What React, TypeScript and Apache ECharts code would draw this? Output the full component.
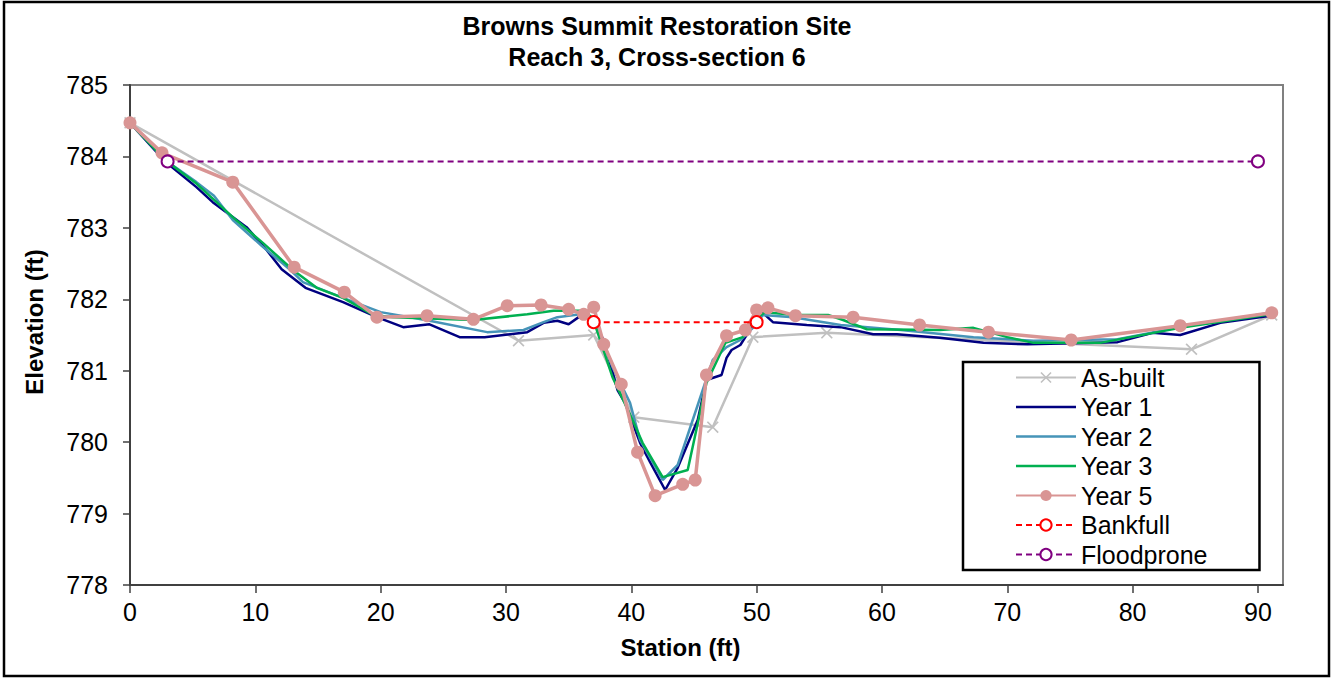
import React, { useEffect, useRef } from "react";
import * as echarts from "echarts";

const FONT = 'Arial, "Liberation Sans", sans-serif';

const asBuiltX = [0, 31.0, 37.0, 40.2, 46.5, 49.7, 55.6, 84.7, 91.1];
const asBuiltY = [784.47, 781.42, 781.5, 780.35, 780.21, 781.47, 781.53, 781.3, 781.78];

const year1X = [0, 2.8, 5.3, 6.6, 9.3, 10.9, 12.1, 14.0, 17.0, 19.7, 21.8, 23.9, 26.3, 28.3, 31.7, 33.0, 34.1, 35.0, 35.8, 36.5, 37.0, 37.8, 38.9, 39.5, 40.7, 41.5, 42.7, 43.7, 45.3, 46.0, 47.2, 47.6, 48.0, 48.7, 49.6, 50.5, 51.3, 54.0, 56.7, 59.3, 61.2, 64.6, 68.1, 71.6, 78.8, 81.6, 83.8, 87.0, 91.0];
const year1Y = [784.47, 783.93, 783.57, 783.36, 783.01, 782.69, 782.42, 782.16, 781.96, 781.75, 781.61, 781.65, 781.47, 781.47, 781.54, 781.67, 781.7, 781.65, 781.75, 781.77, 781.68, 781.43, 780.73, 780.55, 779.99, 779.72, 779.33, 779.64, 780.31, 780.87, 780.94, 781.18, 781.29, 781.36, 781.61, 781.81, 781.68, 781.64, 781.61, 781.51, 781.51, 781.46, 781.39, 781.37, 781.4, 781.53, 781.5, 781.67, 781.77];

const year2X = [0, 1.5, 2.8, 5.3, 6.7, 8.2, 10.5, 12.8, 13.8, 17.0, 20.0, 23.9, 28.5, 31.4, 33.0, 34.1, 35.9, 37.0, 38.5, 39.9, 40.7, 42.5, 43.7, 45.7, 46.5, 47.6, 48.7, 49.7, 50.5, 51.3, 52.9, 56.7, 61.5, 67.3, 72.1, 78.8, 83.8, 91.0];
const year2Y = [784.47, 784.2, 783.95, 783.64, 783.45, 783.11, 782.75, 782.41, 782.24, 782.02, 781.82, 781.7, 781.54, 781.57, 781.68, 781.75, 781.79, 781.71, 781.05, 780.55, 780.03, 779.47, 779.68, 780.73, 781.15, 781.33, 781.43, 781.6, 781.78, 781.77, 781.75, 781.64, 781.57, 781.47, 781.42, 781.44, 781.61, 781.81];

const year3X = [0, 2.8, 5.3, 8.2, 10.6, 13.0, 14.9, 17.0, 19.4, 21.0, 27.4, 31.7, 33.8, 35.9, 36.9, 38.5, 40.1, 40.9, 42.5, 44.5, 46.0, 47.5, 48.9, 50.0, 50.7, 53.1, 55.7, 56.9, 58.8, 64.6, 67.3, 70.0, 72.1, 77.4, 83.8, 91.0];
const year3Y = [784.47, 783.95, 783.62, 783.15, 782.79, 782.41, 782.16, 782.02, 781.78, 781.75, 781.71, 781.79, 781.84, 781.84, 781.75, 780.91, 780.31, 779.99, 779.51, 779.61, 780.83, 781.39, 781.47, 781.74, 781.82, 781.78, 781.78, 781.71, 781.58, 781.57, 781.6, 781.47, 781.39, 781.39, 781.6, 781.79];

const year5X = [0, 2.55, 8.2, 13.1, 17.1, 19.7, 23.7, 27.4, 30.1, 32.8, 35.0, 36.2, 37.0, 37.8, 39.2, 40.5, 41.9, 44.1, 45.1, 46.0, 47.6, 49.1, 50.0, 50.9, 53.1, 57.7, 63.0, 68.5, 75.1, 83.8, 91.1];
const year5Y = [784.47, 784.05, 783.64, 782.45, 782.1, 781.75, 781.77, 781.72, 781.91, 781.92, 781.86, 781.79, 781.89, 781.37, 780.81, 779.86, 779.25, 779.41, 779.47, 780.94, 781.49, 781.57, 781.85, 781.88, 781.77, 781.75, 781.64, 781.54, 781.43, 781.63, 781.81];

const bankfullX = [37.0, 50.0];
const bankfullY = [781.68, 781.68];

const floodproneX = [3.0, 90.0];
const floodproneY = [783.93, 783.93];

const seriesNames = ["As-built", "Year 1", "Year 2", "Year 3", "Year 5", "Bankfull", "Floodprone"];

const pairs = (xs: number[], ys: number[]) => xs.map((x, i) => [x, ys[i]]);

const CROSS = "path://M0,1L1,0L5,4L9,0L10,1L6,5L10,9L9,10L5,6L1,10L0,9L4,5Z";
const LINE_ICON = "path://M0,0h0.01v0.01h-0.01z M0,5.75h60v2.5h-60z M59.99,13.99h0.01v0.01h-0.01z";

export default function App() {
  const ref = useRef<HTMLDivElement>(null);
  useEffect(() => {
    if (!ref.current) return;
    const chart = echarts.init(ref.current, null, { renderer: "svg" });
    chart.setOption({
      animation: false,
      backgroundColor: "#ffffff",
      title: {
        text: "Browns Summit Restoration Site\nReach 3, Cross-section 6",
        left: 652,
        textAlign: "center",
        top: 5,
        textStyle: { fontFamily: FONT, fontSize: 25, fontWeight: "bold", color: "#000", lineHeight: 31 },
      },
      graphic: [
        {
          type: "rect",
          shape: { x: 4, y: 2, width: 1325, height: 674 },
          style: { fill: "none", stroke: "#000", lineWidth: 2.5 },
          silent: true,
          z: 100,
        },
      ],
      grid: {
        left: 130,
        top: 85,
        right: 50,
        bottom: 94,
        containLabel: false,
        outerBoundsMode: "none",
        show: true,
        borderColor: "#808080",
        borderWidth: 2,
        backgroundColor: "#ffffff",
      },
      legend: {
        orient: "vertical",
        left: 963,
        top: 362,
        data: seriesNames.map((n, i) =>
          i >= 1 && i <= 3 ? { name: n, icon: LINE_ICON } : { name: n }
        ),
        itemWidth: 60,
        itemHeight: 14,
        itemGap: 4.5,
        padding: [3, 52, 3, 52],
        backgroundColor: "#ffffff",
        borderColor: "#000",
        borderWidth: 2.5,
        borderRadius: 0,
        textStyle: { fontFamily: FONT, fontSize: 25, color: "#000", lineHeight: 25 },
      },
      xAxis: {
        type: "value",
        min: 0,
        max: 92,
        interval: 10,
        name: "Station (ft)",
        nameLocation: "middle",
        nameGap: 50,
        nameTextStyle: { fontFamily: FONT, fontSize: 24, fontWeight: "bold", color: "#000", padding: [0, 52, 0, 0] },
        axisLine: { show: true, lineStyle: { color: "#404040", width: 2 } },
        axisTick: { show: true, inside: false, length: 8, lineStyle: { color: "#404040", width: 1.5 } },
        axisLabel: { fontFamily: FONT, fontSize: 25, color: "#000", margin: 14, showMaxLabel: false },
        splitLine: { show: false },
      },
      yAxis: {
        type: "value",
        min: 778,
        max: 785,
        interval: 1,
        name: "Elevation (ft)",
        nameLocation: "middle",
        nameGap: 84,
        nameTextStyle: { fontFamily: FONT, fontSize: 24, fontWeight: "bold", color: "#000", padding: [0, 0, 0, 26] },
        axisLine: { show: true, lineStyle: { color: "#404040", width: 2 } },
        axisTick: { show: true, inside: false, length: 7, lineStyle: { color: "#404040", width: 1.5 } },
        axisLabel: { fontFamily: FONT, fontSize: 25, color: "#000", margin: 22 },
        splitLine: { show: false },
      },
      series: [
        {
          name: "As-built",
          type: "line",
          data: pairs(asBuiltX, asBuiltY),
          symbol: CROSS,
          symbolSize: 12,
          showAllSymbol: true,
          itemStyle: { color: "#c0c0c0" },
          lineStyle: { color: "#c0c0c0", width: 2.5 },
          z: 2,
        },
        {
          name: "Year 1",
          type: "line",
          data: pairs(year1X, year1Y),
          symbol: "none",
          itemStyle: { color: "#000080" },
          lineStyle: { color: "#000080", width: 2.5 },
          z: 3,
        },
        {
          name: "Year 2",
          type: "line",
          data: pairs(year2X, year2Y),
          symbol: "none",
          itemStyle: { color: "#4694b8" },
          lineStyle: { color: "#4694b8", width: 2.5 },
          z: 4,
        },
        {
          name: "Year 3",
          type: "line",
          data: pairs(year3X, year3Y),
          symbol: "none",
          itemStyle: { color: "#00b050" },
          lineStyle: { color: "#00b050", width: 2.5 },
          z: 5,
        },
        {
          name: "Year 5",
          type: "line",
          data: pairs(year5X, year5Y),
          symbol: "circle",
          symbolSize: 13,
          showAllSymbol: true,
          itemStyle: { color: "#d99594" },
          lineStyle: { color: "#d99594", width: 3.5 },
          z: 6,
        },
        {
          name: "Bankfull",
          type: "line",
          data: pairs(bankfullX, bankfullY),
          symbol: "circle",
          symbolSize: 12,
          itemStyle: { color: "#ffffff", borderColor: "#ff0000", borderWidth: 2 },
          lineStyle: { color: "#ff0000", width: 2, type: [6, 4] },
          z: 7,
        },
        {
          name: "Floodprone",
          type: "line",
          data: pairs(floodproneX, floodproneY),
          symbol: "circle",
          symbolSize: 12,
          itemStyle: { color: "#ffffff", borderColor: "#800080", borderWidth: 2 },
          lineStyle: { color: "#800080", width: 2, type: [6, 4] },
          z: 7,
        },
      ],
    });
    return () => chart.dispose();
  }, []);
  return (
    <div
      ref={ref}
      style={{ position: "absolute", left: 0, top: 0, width: 1333, height: 679 }}
    />
  );
}
